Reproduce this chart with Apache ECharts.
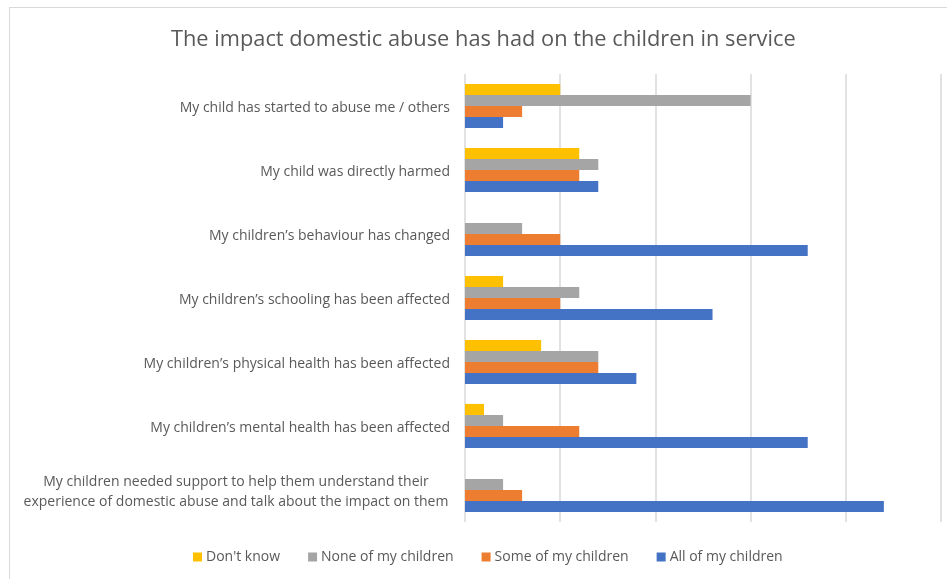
<!DOCTYPE html>
<html>
<head>
<meta charset="utf-8">
<script src="https://cdn.jsdelivr.net/npm/echarts@6/dist/echarts.min.js"></script>
<style>
  html, body { margin: 0; padding: 0; background: #fff; }
  #frame { position: absolute; left: 9px; top: 7px; width: 950px; height: 590px; border: 1px solid #d9d9d9; box-sizing: border-box; }
  #chart { position: absolute; left: 0; top: 0; width: 947px; height: 579px; }
</style>
</head>
<body>
<div id="frame"></div>
<div id="chart"></div>
<script>
// Survey answers: how many respondents said each impact applied to their children
const categories = [
  'My child has started to abuse me / others',
  'My child was directly harmed',
  'My children\u2019s behaviour has changed',
  'My children\u2019s schooling has been affected',
  'My children\u2019s physical health has been affected',
  'My children\u2019s mental health has been affected',
  'My children needed support to help them understand their\nexperience of domestic abuse and talk about the impact on them'
];
const dontKnow = [5, 6, 0, 2, 4, 1, 0];
const noneOfMyChildren = [15, 7, 3, 6, 7, 2, 2];
const someOfMyChildren = [3, 6, 5, 5, 7, 6, 3];
const allOfMyChildren = [2, 7, 18, 13, 9, 18, 22];
const seriesNames = ["Don't know", 'None of my children', 'Some of my children', 'All of my children'];
const seriesColors = ['#FFC000', '#A5A5A5', '#ED7D31', '#4472C4'];
const seriesData = [dontKnow, noneOfMyChildren, someOfMyChildren, allOfMyChildren];

const chart = echarts.init(document.getElementById('chart'));
chart.setOption({
  animation: false,
  backgroundColor: 'transparent',
  title: {
    text: 'The impact domestic abuse has had on the children in service',
    left: 166,
    top: 24,
    textStyle: { fontFamily: 'Open Sans', fontWeight: 'normal', fontSize: 21.8, color: '#595959' }
  },
  legend: {
    bottom: 10,
    left: 188,
    itemWidth: 9,
    itemHeight: 9,
    itemGap: 28,
    icon: 'rect',
    textStyle: { fontFamily: 'Open Sans', fontSize: 14, color: '#595959', padding: [0, 0, 0, -1] },
    data: seriesNames
  },
  grid: { left: 465, right: 6, top: 74, bottom: 57, containLabel: false },
  xAxis: {
    type: 'value',
    min: 0,
    max: 25,
    interval: 5,
    axisLabel: { show: false },
    axisLine: { show: false },
    axisTick: { show: false },
    splitLine: { lineStyle: { color: '#d9d9d9', width: 1.5 } }
  },
  yAxis: {
    type: 'category',
    inverse: true,
    data: categories,
    axisLine: { show: false },
    axisTick: { show: false },
    axisLabel: {
      margin: 15,
      fontFamily: 'Open Sans',
      fontSize: 14,
      color: '#595959',
      lineHeight: 20,
      padding: [4, 0, 0, 0],
      formatter: function (v) {
        if (v.indexOf('\n') >= 0) {
          return v.split('\n').map(function (s) { return '{c|' + s + '}'; }).join('\n');
        }
        return v;
      },
      rich: {
        c: { width: 428, align: 'center', fontFamily: 'Open Sans', fontSize: 14, color: '#595959', lineHeight: 20 }
      }
    }
  },
  series: seriesNames.map(function (name, i) {
    return {
      name: name,
      type: 'bar',
      data: seriesData[i],
      barGap: '0%',
      barCategoryGap: '31%',
      itemStyle: { color: seriesColors[i] }
    };
  })
});
</script>
</body>
</html>
